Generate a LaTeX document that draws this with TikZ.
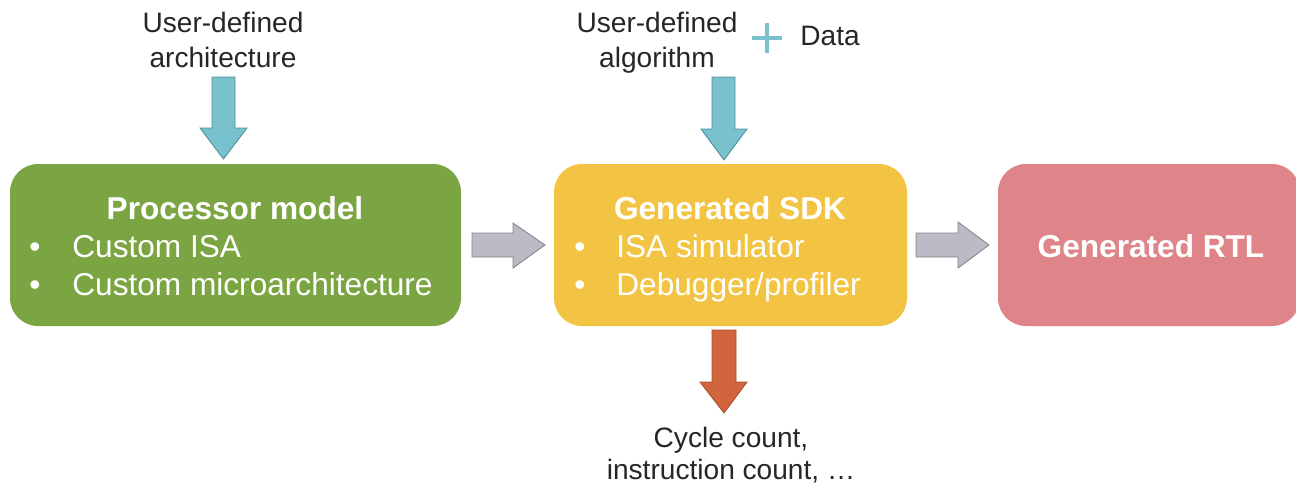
\documentclass[tikz,border=0pt]{standalone}
\usepackage{fontspec}
\setmainfont{Liberation Sans}
\definecolor{boxgreen}{HTML}{7BA543}
\definecolor{boxyellow}{HTML}{F3C443}
\definecolor{boxpink}{HTML}{DF858A}
\definecolor{arrblue}{HTML}{7AC1CE}
\definecolor{arrblueline}{HTML}{4F8F9C}
\definecolor{arrgray}{HTML}{BBBBC6}
\definecolor{arrgrayline}{HTML}{85858F}
\definecolor{arrorange}{HTML}{D0653E}
\definecolor{arrorangeline}{HTML}{A64E2F}
\definecolor{labeltext}{HTML}{262626}
\tikzset{
  x=0.02cm, y=-0.02cm,
  boxtitle/.style={anchor=base, inner sep=0pt, text=white, font=\fontsize{18}{21}\selectfont\bfseries},
  boxitem/.style={anchor=base west, inner sep=0pt, text=white, font=\fontsize{18}{21}\selectfont},
  outlabel/.style={anchor=base, inner sep=0pt, text=labeltext, font=\fontsize{16}{19}\selectfont},
  bluearrow/.style={fill=arrblue, draw=arrblueline, line width=0.5pt, line join=miter},
  grayarrow/.style={fill=arrgray, draw=arrgrayline, line width=0.5pt, line join=miter},
  orangearrow/.style={fill=arrorange, draw=arrorangeline, line width=0.5pt, line join=miter},
}
\begin{document}
\begin{tikzpicture}
\useasboundingbox (0,0) rectangle (1296,484);
% boxes
\fill[boxgreen, rounded corners=0.56cm] (10,164) rectangle (461,326);
\fill[boxyellow, rounded corners=0.56cm] (554,164) rectangle (907,326);
\fill[boxpink, rounded corners=0.56cm] (998,164) rectangle (1300,326);
% box texts
\node[boxtitle] (pmtitle) at (235,219) {Processor model};
\node[boxitem] (pmb1) at (29,257) {•};
\node[boxitem] (pmi1) at (72,257) {Custom ISA};
\node[boxitem] (pmb2) at (29,295) {•};
\node[boxitem] (pmi2) at (72,295) {Custom microarchitecture};
\node[boxtitle] (sdktitle) at (730,219) {Generated SDK};
\node[boxitem] (sdkb1) at (574,257) {•};
\node[boxitem] (sdki1) at (616,257) {ISA simulator};
\node[boxitem] (sdkb2) at (574,295) {•};
\node[boxitem] (sdki2) at (616,295) {Debugger/profiler};
\node[boxtitle] (rtltitle) at (1151,257) {Generated RTL};
% outside labels
\node[outlabel] (ua1) at (223,32) {User-defined};
\node[outlabel] (ua2) at (223,67) {architecture};
\node[outlabel] (ug1) at (657,32) {User-defined};
\node[outlabel] (ug2) at (657,67) {algorithm};
\node[outlabel, anchor=base west] (data) at (800,45) {Data};
\node[outlabel] (cyc1) at (731,447) {Cycle count,};
\node[outlabel] (cyc2) at (731,479) {instruction count, …};
% plus sign
\draw[arrblue, line width=1.8pt] (752,38) -- (782,38) (767,23) -- (767,53);
% block arrows
\draw[bluearrow] (212,77) -- (235,77) -- (235,128) -- (247,128) -- (223.5,159) -- (200,128) -- (212,128) -- cycle;
\draw[bluearrow] (712,77) -- (735,77) -- (735,129) -- (747,129) -- (724,160) -- (701,129) -- (712,129) -- cycle;
\draw[orangearrow] (712,330) -- (736,330) -- (736,382) -- (747,382) -- (724,413) -- (700,382) -- (712,382) -- cycle;
\draw[grayarrow] (472,233) -- (513,233) -- (513,223) -- (545,245) -- (513,268) -- (513,257) -- (472,257) -- cycle;
\draw[grayarrow] (916,233) -- (958,233) -- (958,222) -- (989,245) -- (958,268) -- (958,257) -- (916,257) -- cycle;
\end{tikzpicture}
\end{document}
